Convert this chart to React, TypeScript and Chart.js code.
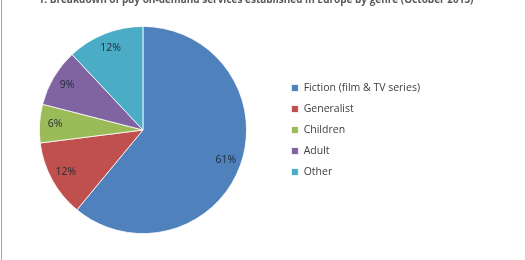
import React, { useEffect, useRef } from "react";
import { Chart, registerables } from "chart.js";

Chart.register(...registerables);

const titleText = "1. Breakdown of pay on-demand services established in Europe by genre (October 2013)";
const categories = ["Fiction (film & TV series)", "Generalist", "Children", "Adult", "Other"];
const shares = [61, 12, 6, 9, 12];
const colors = ["#4F81BD", "#C0504D", "#9BBB59", "#8064A2", "#4BACC6"];

const FONT = "'Open Sans', 'DejaVu Sans', sans-serif";

const sliceLabels = {
  id: "sliceLabels",
  afterDatasetsDraw(chart: any) {
    const ctx = chart.ctx;
    const meta = chart.getDatasetMeta(0);
    ctx.save();
    ctx.font = `10.5px ${FONT}`;
    ctx.fillStyle = "#1f2a36";
    ctx.textAlign = "center";
    ctx.textBaseline = "middle";
    meta.data.forEach((arc: any, i: number) => {
      const p = arc.getProps(["x", "y", "startAngle", "endAngle", "outerRadius"], true);
      const mid = (p.startAngle + p.endAngle) / 2;
      const r = p.outerRadius * 0.85;
      ctx.fillText(`${shares[i]}%`, p.x + Math.cos(mid) * r, p.y + Math.sin(mid) * r);
    });
    ctx.restore();
  },
};

const topTitle = {
  id: "topTitle",
  afterDraw(chart: any) {
    const ctx = chart.ctx;
    ctx.save();
    ctx.font = `bold 10px ${FONT}`;
    ctx.fillStyle = "#595959";
    ctx.textAlign = "center";
    ctx.textBaseline = "alphabetic";
    ctx.fillText(titleText, 256, 2.5);
    ctx.restore();
  },
};

export default function App() {
  const ref = useRef<HTMLCanvasElement>(null);
  useEffect(() => {
    if (!ref.current) return;
    const chart = new Chart(ref.current, {
      type: "pie",
      data: {
        labels: categories,
        datasets: [
          {
            data: shares,
            backgroundColor: colors,
            borderColor: "#ffffff",
            borderWidth: 0.8,
          },
        ],
      },
      options: {
        responsive: false,
        animation: false,
        layout: { padding: { left: 5, right: 95, top: 26, bottom: 26 } },
        plugins: {
          legend: {
            position: "right",
            align: "center",
            labels: {
              boxWidth: 7,
              boxHeight: 7,
              padding: 10.5,
              color: "#404040",
              font: { family: FONT, size: 10.5 },
            },
          },
          tooltip: { enabled: false },
        },
      },
      plugins: [sliceLabels, topTitle],
    });
    return () => chart.destroy();
  }, []);
  return (
    <div
      style={{
        position: "fixed",
        left: 0,
        top: 0,
        width: 525,
        height: 260,
        overflow: "hidden",
        background: "#fff",
      }}
    >
      <canvas
        ref={ref}
        width={525}
        height={260}
        style={{ position: "absolute", left: 0, top: 0, width: 525, height: 260 }}
      />
      <div
        style={{
          position: "absolute",
          left: 1,
          top: 0,
          width: 1,
          height: 260,
          background: "#a6a6a6",
        }}
      />
    </div>
  );
}
